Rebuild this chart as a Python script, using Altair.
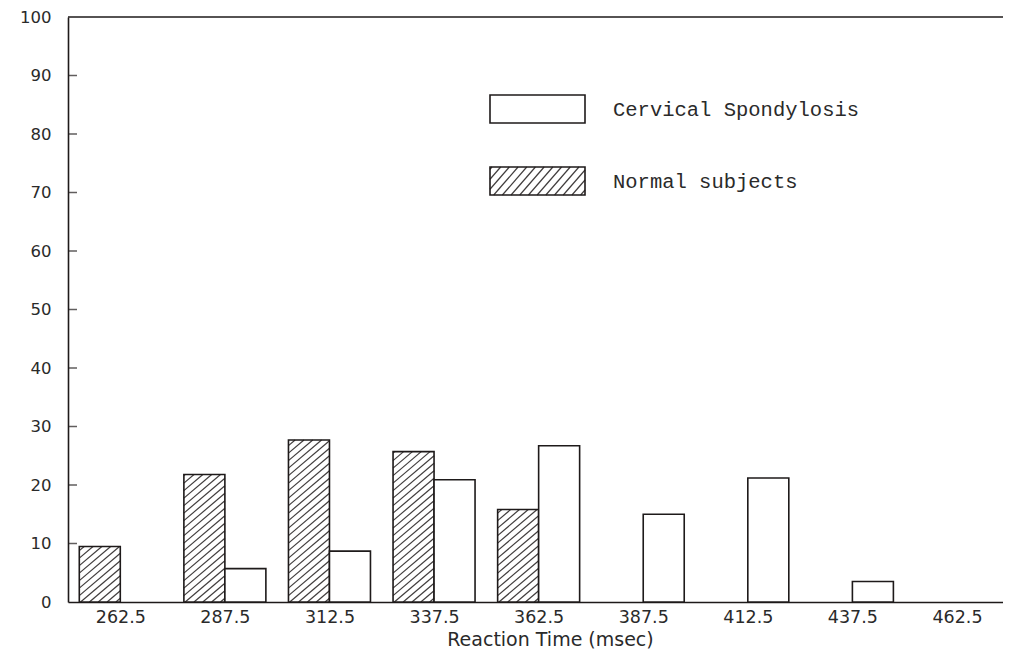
import altair as alt
import pandas as pd

# ---------------- data ----------------
categories = [262.5, 287.5, 312.5, 337.5, 362.5, 387.5, 412.5, 437.5, 462.5]
normal_pct = [9.5, 21.8, 27.7, 25.7, 15.8, 0, 0, 0, 0]
cervical_pct = [0, 5.7, 8.7, 20.9, 26.7, 15.0, 21.2, 3.5, 0]
series_names = ["Normal subjects", "Cervical Spondylosis"]
y_tick_values = [0, 10, 20, 30, 40, 50, 60, 70, 80, 90, 100]
x_title = "Reaction Time (msec)"

# ---------------- layout / style constants ----------------
W, H = 935, 585
X_DOM = [250.0, 473.5]
Y_DOM = [0, 100]
KX = W / (X_DOM[1] - X_DOM[0])   # px per msec
KY = H / (Y_DOM[1] - Y_DOM[0])   # px per percent
BAR_W = 9.8                      # bar width in msec units
INK = "#1e1a1a"
TXT = "#2a2a2a"
SANS = "DejaVu Sans"
MONO = "Liberation Mono"

rows = []
for c, n, cv in zip(categories, normal_pct, cervical_pct):
    rows.append({"cat": c, "series": series_names[0], "value": n})
    rows.append({"cat": c, "series": series_names[1], "value": cv})
df = pd.DataFrame(rows)

xs = alt.Scale(domain=X_DOM, nice=False, zero=False)
ys = alt.Scale(domain=Y_DOM, nice=False)

x_axis = alt.Axis(
    values=categories, format=".1f", ticks=False, grid=False,
    domainColor=INK, domainWidth=1.6, labelFont=SANS, labelFontSize=17.5,
    labelColor=TXT, labelPadding=6, labelOverlap=False,
    title=x_title, titleFont=SANS, titleFontSize=19, titleFontWeight="normal",
    titleColor=TXT, titleX=482, titleY=43, titleAlign="center",
    titleBaseline="alphabetic",
)
y_axis = alt.Axis(
    values=y_tick_values, format="d", ticks=False, grid=False,
    domainColor=INK, domainWidth=1.6, labelFont=SANS, labelFontSize=16.5,
    labelColor=TXT, labelPadding=17, title="",
)


def X(field):
    return alt.X(field, type="quantitative", scale=xs, axis=x_axis)


def Y(field):
    return alt.Y(field, type="quantitative", scale=ys, axis=y_axis)


base = (
    alt.Chart(df)
    .transform_filter("datum.value > 0")
    .transform_calculate(
        x0=f"datum.series == '{series_names[0]}' ? datum.cat - {BAR_W} : datum.cat",
    )
    .transform_calculate(x1=f"datum.x0 + {BAR_W}", ylo="0", yhi="datum.value")
)

bars = base.mark_rect(fill="white", stroke=INK, strokeWidth=1.6).encode(
    x=X("x0"), x2="x1", y=Y("ylo"), y2="yhi",
)


def hatch(chart, m, s, width=1.2, n=80):
    return (
        chart.transform_calculate(
            hw=f"(datum.x1 - datum.x0) * {KX}",
            hh=f"(datum.yhi - datum.ylo) * {KY}",
            k=f"sequence(0, {n})",
        )
        .transform_flatten(["k"])
        .transform_calculate(b=f"-{m} * datum.hw + (datum.k + 0.5) * {s}")
        .transform_filter("datum.b < datum.hh")
        .transform_calculate(
            xs=f"max(0, -datum.b / {m})",
            xe=f"min(datum.hw, (datum.hh - datum.b) / {m})",
        )
        .transform_filter("datum.xe > datum.xs")
        .transform_calculate(
            hx1=f"datum.x0 + datum.xs / {KX}",
            hx2=f"datum.x0 + datum.xe / {KX}",
            hy1=f"datum.ylo + ({m} * datum.xs + datum.b) / {KY}",
            hy2=f"datum.ylo + ({m} * datum.xe + datum.b) / {KY}",
        )
        .mark_rule(color=INK, strokeWidth=width, opacity=0.85)
        .encode(x=X("hx1"), x2="hx2", y=Y("hy1"), y2="hy2")
    )


bar_hatch = hatch(base.transform_filter(f"datum.series == '{series_names[0]}'"), 0.85, 7.5)

# ---------------- legend (inside the plot) ----------------
legend_df = pd.DataFrame({"label": series_names})
LEG_L, LEG_R, LEG_H = 422, 517, 28
legend_base = (
    alt.Chart(legend_df)
    .transform_calculate(
        ptop=f"datum.label == '{series_names[0]}' ? 150 : 78",
    )
    .transform_calculate(
        x0=f"{X_DOM[0]} + {LEG_L} / {KX}",
        x1=f"{X_DOM[0]} + {LEG_R} / {KX}",
        yhi=f"{Y_DOM[1]} - datum.ptop / {KY}",
        ylo=f"{Y_DOM[1]} - (datum.ptop + {LEG_H}) / {KY}",
        tx=f"{X_DOM[0]} + 545 / {KX}",
        ty=f"{Y_DOM[1]} - (datum.ptop + 15) / {KY}",
    )
)
legend_boxes = legend_base.mark_rect(fill="white", stroke=INK, strokeWidth=1.6).encode(
    x=X("x0"), x2="x1", y=Y("ylo"), y2="yhi",
)
legend_hatch = hatch(
    legend_base.transform_filter(f"datum.label == '{series_names[0]}'"), 1.15, 10
)
legend_text = legend_base.mark_text(
    align="left", baseline="middle", font=MONO, fontSize=20.5, color=TXT
).encode(x=X("tx"), y=Y("ty"), text="label:N")

# ---------------- inward y ticks and top frame line ----------------
ticks_df = pd.DataFrame({"t": y_tick_values})
y_ticks = (
    alt.Chart(ticks_df)
    .transform_filter("datum.t > 0 && datum.t < 100")
    .mark_tick(orient="horizontal", color=INK, thickness=1.5, size=9)
    .encode(x=alt.value(4.5), y=Y("t"))
)
top_line = (
    alt.Chart(ticks_df)
    .transform_filter("datum.t == 100")
    .mark_rule(color=INK, strokeWidth=1.6)
    .encode(y=Y("t"), x=alt.value(0), x2=alt.value(W))
)

chart = (
    alt.layer(bars, bar_hatch, legend_boxes, legend_hatch, legend_text, y_ticks, top_line)
    .properties(
        width=W,
        height=H,
        autosize=alt.AutoSizeParams(type="none"),
        padding={"left": 60, "top": 9, "right": 0, "bottom": 48},
        background="white",
    )
    .configure_view(stroke=None)
)

chart.save("out.html", embed_options={"renderer": "svg", "actions": False})
